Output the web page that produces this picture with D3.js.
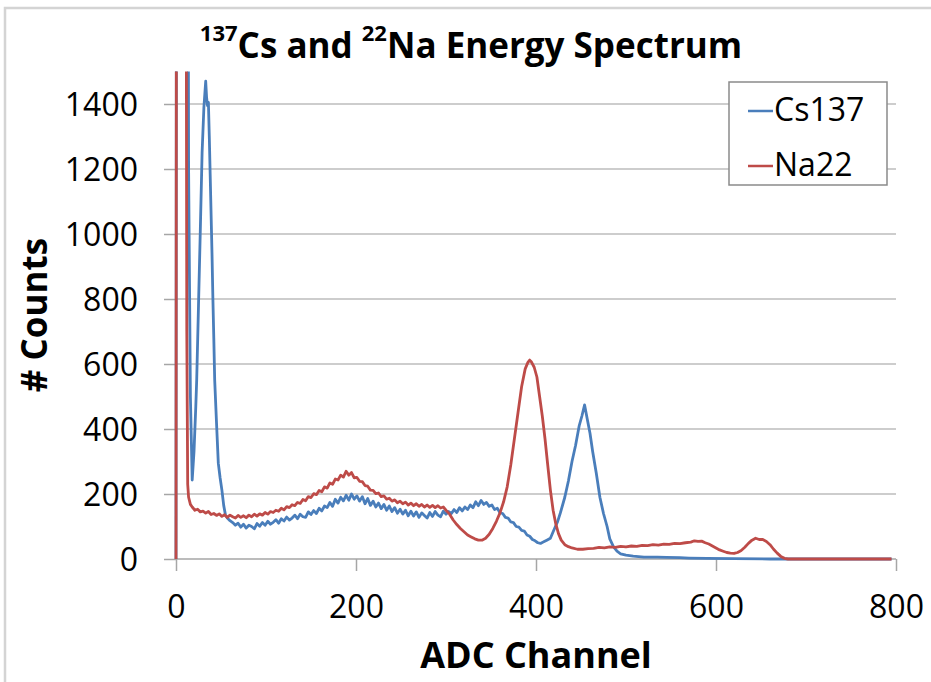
<!DOCTYPE html>
<html>
<head>
<meta charset="utf-8">
<script src="https://cdn.jsdelivr.net/npm/d3@7"></script>
<style>
  html, body { margin: 0; padding: 0; background: #fff; }
  svg { display: block; }
  text { font-family: "Open Sans", "Noto Sans", sans-serif; fill: #000; }
</style>
</head>
<body>
<svg id="chart" width="931" height="682"></svg>
<script>
// ---- Data ----
const xTicks = [0, 200, 400, 600, 800];
const yTicks = [0, 200, 400, 600, 800, 1000, 1200, 1400];
const seriesNames = ["Cs137", "Na22"];
const seriesColors = ["#4a7ebb", "#be4b48"];

const csChannel = [0, 1, 12, 14, 16, 18, 20, 22, 23, 25, 27, 29, 31, 32, 33, 34, 35, 36, 37, 38, 40, 41, 42, 43, 45, 47, 49, 51, 53, 55,
  57, 60, 63, 66, 69, 72, 75, 78, 81, 84, 87, 90, 93, 96, 99, 102, 105, 108, 111, 114, 117, 120, 123, 126, 129, 132, 135, 138,
  141, 144, 147, 150, 153, 156, 159, 162, 165, 168, 171, 174, 177, 180, 183, 186, 189, 192, 195, 198, 201, 204, 207, 210,
  213, 216, 219, 222, 225, 228, 231, 234, 237, 240, 243, 246, 249, 252, 255, 258, 261, 264, 267, 270, 273, 276, 279, 282,
  285, 288, 291, 294, 297, 300, 303, 306, 309, 312, 315, 318, 321, 324, 327, 330, 333, 336, 339, 342, 345, 348, 351, 354,
  357, 360, 363, 366, 369, 372, 375, 378, 381, 384, 387, 390, 393, 396, 399, 402, 405, 408, 412, 416, 420, 424, 427, 432,
  436, 440, 444, 448, 451, 454, 457, 460, 463, 467, 471, 475, 479, 482, 486, 490, 494, 500, 508, 520, 535, 545, 560, 570,
  590, 620, 660, 700, 795];
const csCount = [0, 4200, 4200, 1200, 500, 243, 330, 470, 551, 780, 1010, 1250, 1390, 1430, 1470, 1420, 1395, 1405, 1300, 1180, 940, 800, 680, 550, 420, 295, 250, 212, 165, 135,
  126, 118, 112, 104, 110, 98, 107, 95, 104, 100, 93, 109, 101, 112, 104, 116, 107, 113, 121, 110, 124, 117, 129, 120, 126, 135, 124, 138,
  130, 128, 145, 137, 149, 140, 156, 148, 163, 158, 174, 162, 184, 172, 190, 179, 196, 181, 200, 184, 194, 178, 192, 170,
  186, 165, 178, 160, 172, 155, 168, 150, 163, 146, 158, 141, 153, 138, 150, 133, 147, 132, 145, 128, 142, 134, 126, 143,
  131, 146, 135, 130, 147, 138, 146, 140, 152, 143, 158, 148, 160, 152, 166, 158, 176, 164, 180, 168, 174, 162, 166, 152,
  156, 142, 140, 128, 126, 114, 112, 100, 98, 88, 86, 74, 70, 60, 56, 50, 48, 52, 58, 64, 90, 115, 141, 190,
  240, 300, 350, 410, 440, 474, 430, 387, 330, 264, 190, 140, 100, 62, 38, 24, 16, 12, 9, 6, 6, 5, 4, 3,
  2, 1, 0, 0, 0];

const naChannel = [0, 1, 10, 12, 13, 14, 16, 18, 21, 24, 27, 30, 33, 36, 39, 42, 45, 48, 51, 54, 57, 60, 63, 66, 69, 72, 75, 78, 81, 84, 87, 90, 93, 96, 99,
  102, 105, 108, 111, 114, 117, 120, 123, 126, 129, 132, 135, 138, 141, 144, 147, 150, 153, 156, 159, 162, 165, 168, 171, 174, 177,
  180, 183, 186, 189, 192, 195, 198, 201, 204, 207, 210, 213, 216, 219, 222, 225, 228, 231, 234, 237, 240, 243, 246, 249, 252,
  255, 258, 261, 264, 267, 270, 273, 276, 279, 282, 285, 288, 291, 294, 297,
  300, 304, 308, 312, 316, 320, 324, 328, 332, 336, 340, 344, 348, 352, 356, 360, 364, 368, 372, 376, 380, 384, 388, 391, 393, 395, 398,
  401, 404, 407, 410, 413, 416, 419, 422, 425, 428, 432, 436, 440, 446, 452, 458, 464, 470, 476, 482, 488, 494,
  500, 506, 512, 518, 524, 530, 536, 542, 548, 554, 560, 566, 572, 576, 580, 584, 588, 592, 596,
  600, 604, 608, 612, 616, 620, 624, 628, 632, 636, 640, 644, 648, 652, 656, 660, 664, 668, 672, 676, 680, 795];
const naCount = [0, 4200, 4200, 700, 230, 190, 168, 160, 150, 153, 145, 147, 141, 146, 137, 140, 134, 139, 131, 136, 128, 135, 130, 126, 134, 128, 133, 127, 135, 130, 138, 132, 139, 135, 143,
  138, 146, 143, 150, 147, 156, 151, 161, 158, 167, 164, 174, 171, 183, 179, 192, 189, 201, 198, 211, 207, 222, 218, 234, 230, 246,
  243, 258, 252, 270, 258, 266, 250, 251, 239, 238, 226, 224, 212, 211, 201, 203, 192, 194, 184, 187, 178, 182, 173, 178, 170,
  175, 166, 172, 164, 170, 162, 168, 160, 166, 159, 165, 158, 164, 157, 160,
  150, 138, 120, 106, 94, 84, 74, 68, 62, 58, 58, 64, 76, 94, 116, 142, 176, 222, 290, 370, 450, 530, 585, 605, 612, 606, 590,
  560, 500, 440, 370, 290, 212, 150, 108, 78, 58, 44, 38, 34, 30, 30, 32, 33, 36, 34, 37, 36, 39,
  37, 40, 39, 42, 41, 44, 43, 46, 45, 48, 47, 50, 52, 56, 54, 55, 50, 46, 40,
  34, 28, 24, 20, 18, 17, 20, 26, 36, 48, 58, 64, 60, 60, 54, 44, 30, 18, 8, 2, 0, 0];

// ---- Layout ----
const svg = d3.select("#chart");
const plot = { left: 176, right: 896, top: 71.5, bottom: 559 };
const x = d3.scaleLinear().domain([0, 800]).range([plot.left, plot.right]);
const y = d3.scaleLinear().domain([0, 1500]).range([plot.bottom, plot.top]);

// chart frame (light gray, left and top edges visible)
svg.append("path")
  .attr("d", "M5,682 L5,8 L931,8")
  .attr("fill", "none").attr("stroke", "#d4d4d4").attr("stroke-width", 2.5);

// gridlines
svg.append("g").selectAll("line").data(yTicks.filter(d => d > 0)).join("line")
  .attr("x1", plot.left).attr("x2", plot.right)
  .attr("y1", d => y(d)).attr("y2", d => y(d))
  .attr("stroke", "#bcbcbc").attr("stroke-width", 1.5);

// y axis
const yAxis = d3.axisLeft(y).tickValues(yTicks).tickSize(12).tickPadding(26).tickFormat(d3.format("d"));
const gy = svg.append("g").attr("transform", `translate(${plot.left},0)`).call(yAxis);
gy.select(".domain").attr("stroke", "#a6a6a6").attr("stroke-width", 1.5)
  .attr("d", `M0,${plot.top}V${plot.bottom}`);
gy.selectAll(".tick line").attr("stroke", "#a6a6a6").attr("stroke-width", 1.5);
gy.selectAll(".tick text").attr("font-size", 32).attr("font-family", "Open Sans").attr("fill", "#000").attr("dy", "0.36em");

// x axis
const xAxis = d3.axisBottom(x).tickValues(xTicks).tickSize(12).tickPadding(24).tickFormat(d3.format("d"));
const gx = svg.append("g").attr("transform", `translate(0,${plot.bottom})`).call(xAxis);
gx.select(".domain").attr("stroke", "#a6a6a6").attr("stroke-width", 1.5)
  .attr("d", `M${plot.left},0H${plot.right}`);
gx.selectAll(".tick line").attr("stroke", "#a6a6a6").attr("stroke-width", 1.5);
gx.selectAll(".tick text").attr("font-size", 32).attr("font-family", "Open Sans").attr("fill", "#000");

// clip
svg.append("clipPath").attr("id", "plotclip").append("rect")
  .attr("x", plot.left - 5).attr("y", plot.top)
  .attr("width", plot.right - plot.left + 10).attr("height", plot.bottom - plot.top + 5);

const line = d3.line().x(d => x(d[0])).y(d => y(d[1]));
const csData = csChannel.map((c, i) => [c, csCount[i]]);
const naData = naChannel.map((c, i) => [c, naCount[i]]);

const lines = svg.append("g").attr("clip-path", "url(#plotclip)");
lines.append("path").datum(csData).attr("d", line)
  .attr("fill", "none").attr("stroke", seriesColors[0]).attr("stroke-width", 2.8).attr("stroke-linejoin", "round");
lines.append("path").datum(naData).attr("d", line)
  .attr("fill", "none").attr("stroke", seriesColors[1]).attr("stroke-width", 2.8).attr("stroke-linejoin", "round");

// title
const title = svg.append("text").attr("x", 471).attr("y", 58).attr("text-anchor", "middle")
  .attr("font-weight", "bold").attr("font-size", 35);
title.append("tspan").attr("font-size", 22).attr("dy", -17).text("137");
title.append("tspan").attr("dy", 17).text("Cs and ");
title.append("tspan").attr("font-size", 22).attr("dy", -17).text("22");
title.append("tspan").attr("dy", 17).text("Na Energy Spectrum");

// axis titles
svg.append("text").attr("transform", `translate(47,315) rotate(-90)`).attr("text-anchor", "middle")
  .attr("font-weight", "bold").attr("font-size", 35).text("# Counts");
svg.append("text").attr("x", 536).attr("y", 668).attr("text-anchor", "middle")
  .attr("font-weight", "bold").attr("font-size", 36).text("ADC Channel");

// legend
const lg = svg.append("g");
lg.append("rect").attr("x", 729).attr("y", 82).attr("width", 158).attr("height", 103)
  .attr("fill", "#fff").attr("stroke", "#8a8a8a").attr("stroke-width", 1.5);
seriesNames.forEach((name, i) => {
  const cy = 111 + i * 55;
  lg.append("line").attr("x1", 748).attr("x2", 773).attr("y1", cy).attr("y2", cy)
    .attr("stroke", seriesColors[i]).attr("stroke-width", 2.5);
  lg.append("text").attr("x", 774).attr("y", cy + 10).attr("font-size", 32).text(name);
});
</script>
</body>
</html>
